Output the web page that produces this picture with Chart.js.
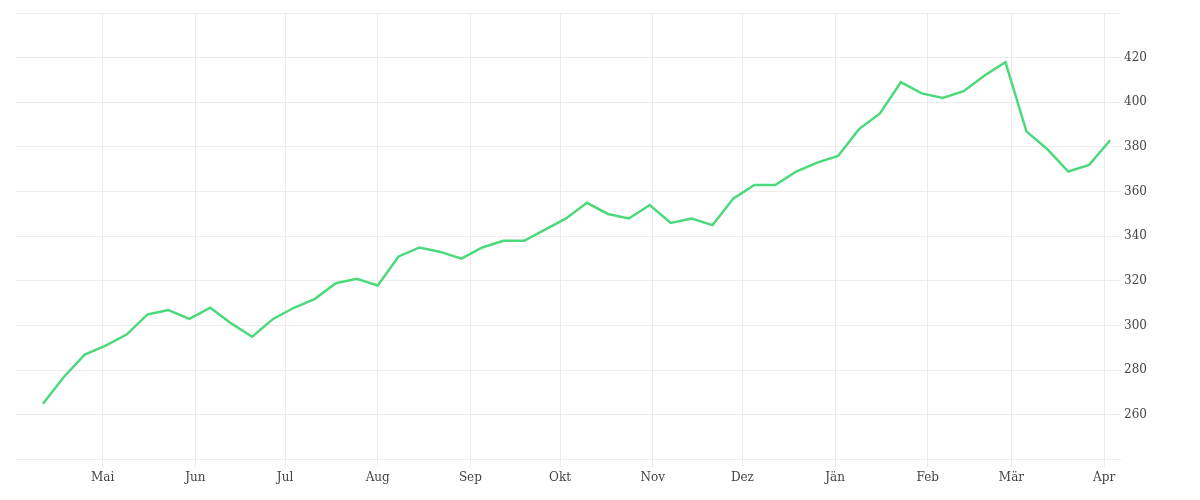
<!DOCTYPE html><html><head><meta charset="utf-8">
<script src="https://cdn.jsdelivr.net/npm/chart.js@4/dist/chart.umd.min.js"></script>
<style>html,body{margin:0;background:#fff}#w{width:1200px;height:500px}</style></head><body><div id="w"><canvas id="c"></canvas></div>
<script>
const firstDay = 10; // days after 1 Apr
const values = [265,277,287,291,296,305,307,303,308,301,295,303,308,312,319,321,318,331,335,333,330,335,338,338,343,348,355,350,348,354,346,348,345,357,363,363,369,373,376,388,395,409,404,402,405,412,418,387,379,369,372,383];
const monthNames = ["Mai","Jun","Jul","Aug","Sep","Okt","Nov","Dez","Jän","Feb","Mär","Apr"];
const monthDays = [30,61,91,122,153,183,214,244,275,306,334,365];
const yTicks = [260,280,300,320,340,360,380,400,420];
const pts = values.map((v,i)=>({x:firstDay+7*i,y:v}));
Chart.defaults.font.family = "'DejaVu Serif', serif";
Chart.defaults.font.size = 12;
Chart.defaults.color = '#444';
new Chart(document.getElementById('c'),{type:'line',
data:{datasets:[{data:pts,borderColor:'#4cd97b',borderWidth:2.5,pointRadius:0,tension:0,fill:false}]},
options:{responsive:true,maintainAspectRatio:false,animation:false,
layout:{padding:{left:16,right:50,top:13,bottom:12}},
plugins:{legend:{display:false},tooltip:{enabled:false}},
scales:{
x:{type:'linear',min:1,max:368,border:{display:false},
 grid:{color:'#ececec',tickLength:8},
 afterBuildTicks:s=>{s.ticks=monthDays.map(v=>({value:v}));},
 ticks:{autoSkip:false,maxRotation:0,callback:(v)=>monthNames[monthDays.indexOf(v)]}},
y:{position:'right',min:240,max:440,border:{display:false},
 grid:{color:'#ececec',tickLength:8},
 afterBuildTicks:s=>{s.ticks=[240,...yTicks,440].map(v=>({value:v}));},
 ticks:{callback:v=>yTicks.includes(v)?String(v):''}}
}}});
</script></body></html>
